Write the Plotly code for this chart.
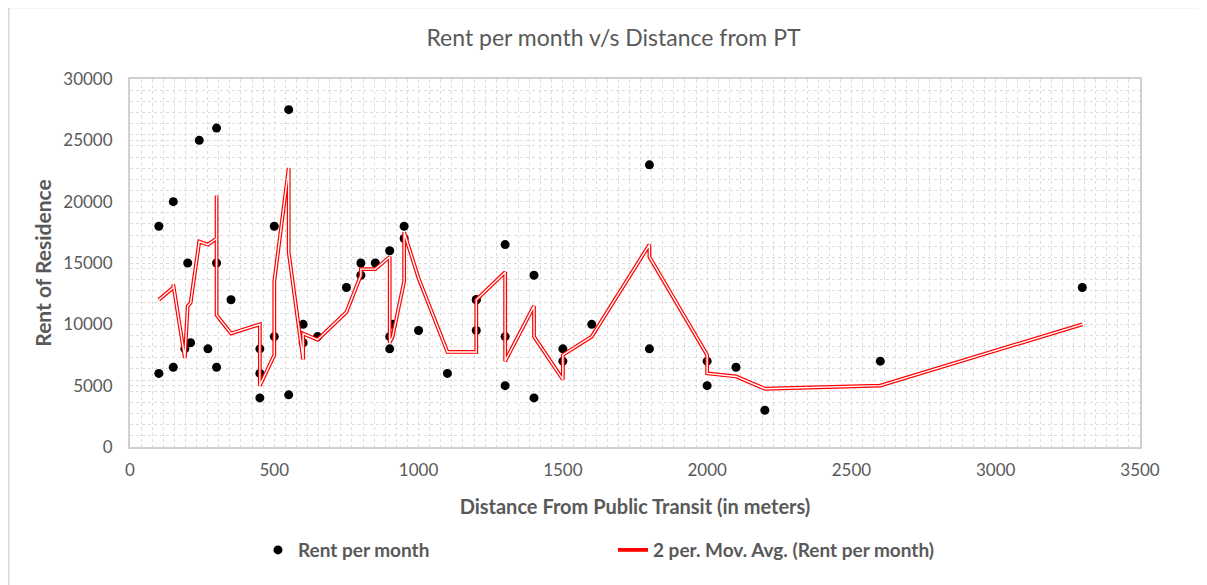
import plotly.graph_objects as go
import pandas as pd

# Data (sorted by distance, as Excel does for the moving-average trendline)
distance = [100, 100, 150, 150, 190, 200, 210, 240, 270, 300, 300, 300, 350,
            450, 450, 450, 500, 500, 550, 550, 600, 600, 650, 750, 800, 800,
            850, 900, 900, 900, 910, 950, 950, 1000, 1100, 1200, 1200, 1200,
            1300, 1300, 1300, 1400, 1400, 1500, 1500, 1600, 1800, 1800, 2000,
            2000, 2100, 2200, 2600, 3300]
rent = [18000, 6000, 20000, 6500, 8000, 15000, 8500, 25000, 8000, 26000, 15000,
        6500, 12000, 8000, 4000, 6000, 9000, 18000, 27500, 4250, 10000, 8500,
        9000, 13000, 15000, 14000, 15000, 16000, 9000, 8000, 10000, 17000,
        18000, 9500, 6000, 9500, 12000, 12000, 16500, 5000, 9000, 14000, 4000,
        7000, 8000, 10000, 23000, 8000, 7000, 5000, 6500, 3000, 7000, 13000]

x_ticks = [0, 500, 1000, 1500, 2000, 2500, 3000, 3500]
y_ticks = [0, 5000, 10000, 15000, 20000, 25000, 30000]

df = pd.DataFrame({"d": distance, "r": rent})
df["ma"] = df["r"].rolling(2).mean()
ma = df.dropna()

font_fam = "Lato, 'Open Sans', sans-serif"
grey = "#595959"

fig = go.Figure()
fig.add_trace(go.Scatter(
    x=df["d"], y=df["r"], mode="markers", name="<b>Rent per month</b>",
    marker=dict(color="black", size=9)))
fig.add_trace(go.Scatter(
    x=ma["d"], y=ma["ma"], mode="lines",
    name="<b>2 per. Mov. Avg. (Rent per month)</b>",
    line=dict(color="#ff0000", width=3.8)))
fig.add_trace(go.Scatter(
    x=ma["d"], y=ma["ma"], mode="lines", showlegend=False, hoverinfo="skip",
    line=dict(color="white", width=1.4)))

grid_style = dict(showgrid=True, gridcolor="#dcdcdc", griddash="dot", gridwidth=1)

fig.update_layout(
    width=1199, height=577,
    margin=dict(l=122, r=67, t=71, b=138),
    paper_bgcolor="white", plot_bgcolor="white",
    title=dict(text="Rent per month v/s Distance from PT", x=0.505, xanchor="center",
               y=0.948, yref="container", yanchor="middle",
               font=dict(family=font_fam, size=23, color=grey)),
    xaxis=dict(range=[0, 3500], tickvals=x_ticks,
               ticktext=[str(v) for v in x_ticks], ticks="",
               ticklabelstandoff=7,
               tickfont=dict(family=font_fam, size=17, color=grey),
               showline=True, mirror=True, linecolor="#d0d0d0", linewidth=2,
               zeroline=False,
               minor=dict(dtick=500 / 13, tick0=0, **grid_style),
               **grid_style,
               title=dict(text="<b>Distance From Public Transit (in meters)</b>",
                          standoff=21,
                          font=dict(family=font_fam, size=20, color=grey))),
    yaxis=dict(range=[0, 30000], tickvals=y_ticks,
               ticktext=[str(v) for v in y_ticks], ticks="",
               ticklabelstandoff=12,
               tickfont=dict(family=font_fam, size=17, color=grey),
               showline=True, mirror=True, linecolor="#d0d0d0", linewidth=2,
               zeroline=False,
               minor=dict(dtick=30000 / 33, tick0=0, **grid_style),
               **grid_style,
               title=dict(text="<b>Rent of Residence</b>", standoff=6,
                          font=dict(family=font_fam, size=21, color=grey))),
    legend=dict(orientation="h", x=0.1267, xanchor="left", y=-0.28, yanchor="middle",
                font=dict(family=font_fam, size=19, color=grey),
                entrywidth=310, entrywidthmode="pixels",
                itemwidth=30),
    shapes=[dict(type="rect", xref="paper", yref="paper",
                 x0=-0.12, x1=1.2, y0=-0.6, y1=1.194,
                 line=dict(color="#d9d9d9", width=1.5), fillcolor="rgba(0,0,0,0)",
                 layer="below")],
    showlegend=True,
)

fig.write_html("out.html")
